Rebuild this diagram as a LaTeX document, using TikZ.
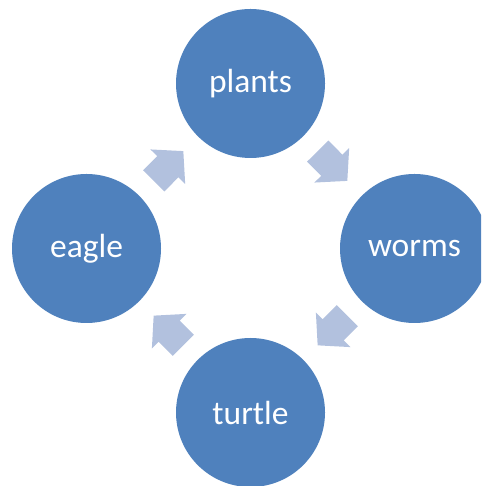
\documentclass[tikz,border=0pt]{standalone}
\usepackage{fontspec}
\setmainfont{Carlito}
\usetikzlibrary{calc}
\definecolor{circblue}{HTML}{4F81BD}
\definecolor{arrowblue}{HTML}{B2C1DE}
\tikzset{
  stage/.style={circle, fill=circblue, draw=none, minimum size=149pt, inner sep=0pt,
    text=white, font=\fontsize{33.5pt}{40pt}\selectfont},
  blockarrow/.pic={
    \fill[arrowblue] (-21pt,-15pt) -- (-1pt,-15pt) -- (-1pt,-24.5pt) -- (21pt,0pt)
      -- (-1pt,24.5pt) -- (-1pt,15pt) -- (-21pt,15pt) -- cycle;
  }
}
\newcommand{\flowarrow}[2]{%
  \path let \p1=($(#2)-(#1)$), \n1={atan2(\y1,\x1)} in
    ($(#1)!0.5!(#2)$) pic[rotate=\n1] {blockarrow};%
}
\begin{document}
\begin{tikzpicture}[x=1pt,y=1pt]
\useasboundingbox (0,0) rectangle (481,486);
\clip (0,0) rectangle (481,486);
\node[stage] (plants) at (250.5,402.5) {plants};
\node[stage] (worms)  at (414.5,237.5) {worms};
\node[stage] (turtle) at (250.5,73.5)  {turtle};
\node[stage] (eagle)  at (86.5,237.5)  {eagle};
\flowarrow{plants}{worms}
\flowarrow{worms}{turtle}
\flowarrow{turtle}{eagle}
\flowarrow{eagle}{plants}
\end{tikzpicture}
\end{document}
